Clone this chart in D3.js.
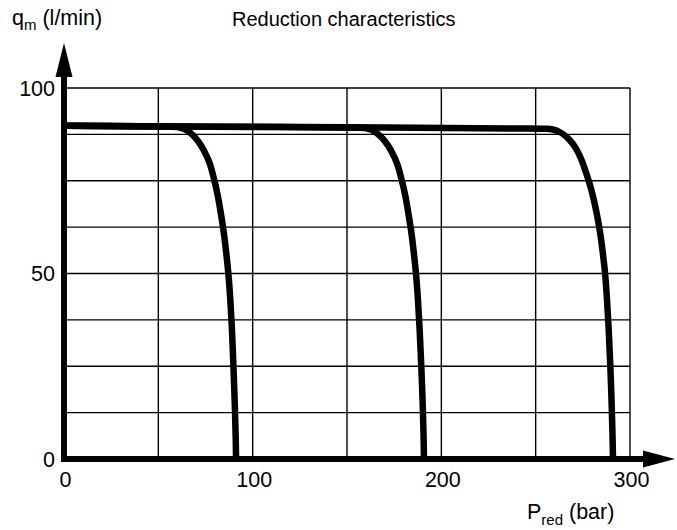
<!DOCTYPE html>
<html><head><meta charset="utf-8">
<script src="https://cdn.jsdelivr.net/npm/d3@7"></script>
<style>body{margin:0;background:#fff}svg{display:block}text{font-family:"Liberation Sans",Arial,Helvetica,sans-serif;fill:#000}</style>
</head><body>
<script>
const xTicks = [0, 100, 200, 300];
const yTicks = [0, 50, 100];
const xGrid = [50, 100, 150, 200, 250, 300];
const yGrid = [12.5, 25, 37.5, 50, 62.5, 75, 87.5, 100];
const title = "Reduction characteristics";
// Reduction curves: [pressure (bar), flow (l/min)]
const curve1 = [[0,89.8],[40,89.7],[56,89.6],[60,89.5],[62.5,89.2],[65,88.6],[68,87.4],[71,85.7],[74,83.3],[77,80],[79.5,75.5],[81.5,71],[83.2,66],[84.7,61],[86,55.5],[87.2,49.5],[88.2,42.5],[89.1,34],[89.8,25],[90.5,15],[91,6],[91.2,0]];
const curve2 = [[0,89.8],[100,89.5],[155,89.3],[159.5,89.2],[162,88.9],[164.5,88.3],[167.5,87.1],[170.5,85.4],[173.5,83],[176.5,79.7],[179,75.2],[181,70.7],[182.7,65.7],[184.2,60.7],[185.5,55.2],[186.7,49.2],[187.7,42.2],[188.6,33.8],[189.4,24.8],[190.1,15],[190.6,6],[190.8,0]];
const curve3 = [[0,89.8],[150,89.4],[240,89.1],[255,89],[259,88.8],[262,88.3],[265,87.4],[268,86],[271,84],[274,81],[276.5,77.5],[279,73.5],[281,69.5],[282.8,65],[284.3,60.5],[285.6,55.5],[286.8,50],[287.8,43],[288.7,35],[289.5,26],[290.2,16],[290.7,7],[291,0]];
const curves = [curve1, curve2, curve3];

const W = 677, H = 530;
const svg = d3.select("body").append("svg").attr("width", W).attr("height", H);
const x = d3.scaleLinear().domain([0, 300]).range([64, 630]);
const y = d3.scaleLinear().domain([0, 100]).range([459, 88]);

// grid
const g = svg.append("g").attr("stroke", "#000").attr("stroke-width", 1.4);
g.selectAll("line.v").data(xGrid).join("line")
  .attr("x1", d => x(d)).attr("x2", d => x(d)).attr("y1", y(0)).attr("y2", y(100));
g.selectAll("line.h").data(yGrid).join("line")
  .attr("x1", x(0)).attr("x2", x(300)).attr("y1", d => y(d)).attr("y2", d => y(d));

// curves
const line = d3.line().x(d => x(d[0])).y(d => y(d[1])).curve(d3.curveCatmullRom.alpha(0.5));
svg.selectAll("path.c").data(curves).join("path")
  .attr("d", line).attr("fill", "none").attr("stroke", "#000")
  .attr("stroke-width", 6.5).attr("stroke-linejoin", "round");

// axes
svg.append("line").attr("x1", x(0)).attr("x2", x(0)).attr("y1", y(0) + 3).attr("y2", 70)
  .attr("stroke", "#000").attr("stroke-width", 6);
svg.append("path").attr("d", `M${x(0)},43 L${x(0) + 8.5},77 L${x(0) - 8.5},77 Z`).attr("fill", "#000");
svg.append("line").attr("x1", x(0) - 3).attr("x2", 650).attr("y1", y(0)).attr("y2", y(0))
  .attr("stroke", "#000").attr("stroke-width", 6);
svg.append("path").attr("d", `M675,${y(0)} L643,${y(0) - 8.5} L643,${y(0) + 8.5} Z`).attr("fill", "#000");

// tick labels
svg.selectAll("text.yt").data(yTicks).join("text")
  .attr("x", 55).attr("y", d => y(d)).attr("dy", "0.36em")
  .attr("text-anchor", "end").attr("font-size", 21.5).text(d => d);
svg.selectAll("text.xt").data(xTicks).join("text")
  .attr("x", d => x(d) + 1.5).attr("y", 487)
  .attr("text-anchor", "middle").attr("font-size", 21.5).text(d => d);

// axis titles
const yl = svg.append("text").attr("x", 12).attr("y", 25).attr("font-size", 21.5);
yl.append("tspan").text("q");
yl.append("tspan").attr("font-size", 15).attr("dy", 5).text("m");
yl.append("tspan").attr("dy", -5).text(" (l/min)");

svg.append("text").attr("x", 232).attr("y", 26).attr("font-size", 20).text(title);

const xl = svg.append("text").attr("x", 527).attr("y", 519).attr("font-size", 21.5);
xl.append("tspan").text("P");
xl.append("tspan").attr("font-size", 15).attr("dy", 6).text("red");
xl.append("tspan").attr("dy", -6).text(" (bar)");
</script>
</body></html>
